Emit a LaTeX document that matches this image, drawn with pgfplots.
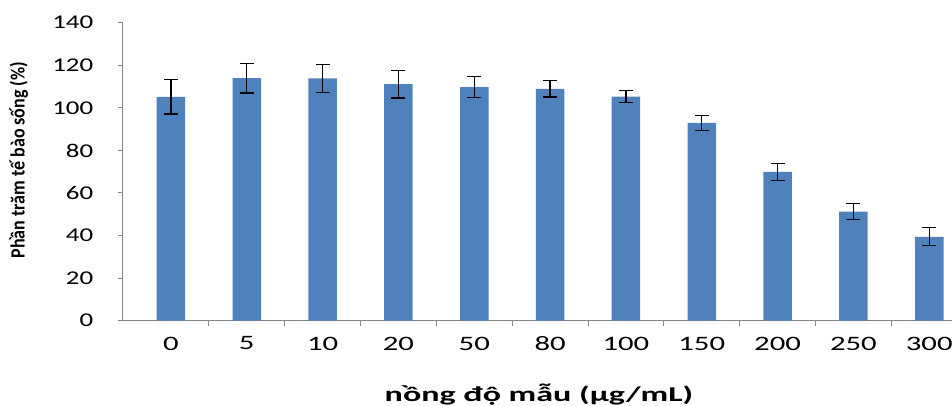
\documentclass[border=0pt]{standalone}
\usepackage{fontspec}
\usepackage{pgfplots}
\pgfplotsset{compat=1.18}
\setmainfont{Carlito}
\newfontfamily\ytickfont[FakeStretch=1.38]{Carlito}
\newfontfamily\xtickfont[FakeStretch=1.5]{Carlito}
\newfontfamily\xlabfont[FakeStretch=1.62]{Carlito}
\definecolor{barblue}{HTML}{4F81BD}
\definecolor{axgray}{HTML}{868686}
\pgfplotstableread{
x y e
0 105.2 8.1
1 114.0 7.0
2 113.8 6.7
3 111.1 6.5
4 109.7 5.0
5 108.9 3.8
6 105.3 2.8
7 92.9 3.6
8 69.9 3.9
9 51.2 3.7
10 39.4 4.2
}\datatable
\begin{document}
\begin{tikzpicture}
\path[use as bounding box] (-122.7pt,-84.3pt) rectangle (829.3pt,320.7pt);
\begin{axis}[
 scale only axis, width=829.3pt, height=298pt,
 xmin=-0.636, xmax=10.30, ymin=0, ymax=140,
 axis x line=bottom, axis y line=left,
 axis line style={-, axgray, line width=1pt},
 ytick={0,20,...,140},
 xtick={0,...,10}, xticklabels={0,5,10,20,50,80,100,150,200,250,300},
 major x tick style={draw=none},
 minor xtick={0.5,1.5,...,9.5},
 tick style={axgray, line width=1pt},
 tick align=outside, major tick length=5pt, minor tick length=5pt,
 /pgf/number format/assume math mode=true,
 yticklabel style={font=\ytickfont\fontsize{19.5}{20}\selectfont, xshift=-21pt},
 xticklabel style={font=\xtickfont\fontsize{20.5}{21}\selectfont, yshift=-7.5pt},
 xlabel={nồng độ mẫu (µg/mL)},
 xlabel style={font=\xlabfont\bfseries\fontsize{21}{23}\selectfont, at={(rel axis cs:0.502,-0.270)}, anchor=base},
 ylabel={\scalebox{1}[1.12]{Phần trăm tế bào sống (\%)}},
 ylabel style={font=\bfseries\fontsize{18}{20}\selectfont, at={(rel axis cs:-0.1254,0.539)}, anchor=center},
 clip=false,
]
\addplot[ybar, bar width=0.376, fill=barblue, draw=none,
  error bars/.cd, y dir=both, y explicit,
  error bar style={black, line width=1.2pt},
  error mark options={rotate=90, mark size=7pt, line width=1.2pt, black}]
  table[x=x, y=y, y error=e] {\datatable};
\end{axis}
\end{tikzpicture}
\end{document}
